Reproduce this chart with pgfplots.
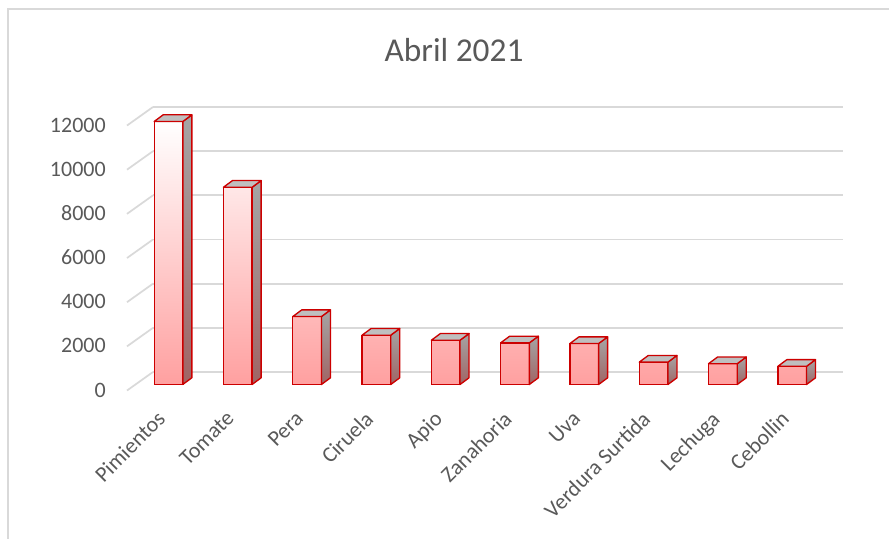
\documentclass[border=0pt]{standalone}
\usepackage{fontspec}
\setmainfont{Carlito}
\usepackage{pgfplots}
\pgfplotsset{compat=1.18}
\usepackage{pgfplotstable}
\definecolor{txt}{RGB}{89,89,89}
\definecolor{gridc}{RGB}{217,217,217}
\definecolor{barred}{RGB}{204,0,0}
\definecolor{pinkb}{RGB}{255,160,160}
\definecolor{pinkm}{RGB}{255,200,200}
\definecolor{sidetop}{RGB}{165,165,165}
\definecolor{sidebot}{RGB}{160,100,100}
\definecolor{topf}{RGB}{191,191,191}
\pgfplotstableread{
i v
0 12000
1 9000
2 3100
3 2250
4 2020
5 1900
6 1870
7 1020
8 950
9 830
}\datatable
\begin{document}
\begin{tikzpicture}
\path[use as bounding box] (0pt,0pt) rectangle (666.75pt,404.25pt);
\draw[gridc, line width=1.5pt] (6pt,0pt) -- (6pt,397.5pt) -- (666.75pt,397.5pt);
\node[text=txt, font=\fontsize{25}{30}\selectfont, anchor=base] at (340.5pt,358pt) {Abril 2021};
% back wall with gridlines
\begin{axis}[at={(114.75pt,125.25pt)}, anchor=south west, scale only axis,
  width=517.5pt, height=198.75pt,
  xmin=0, xmax=1, ymin=0, ymax=12000,
  axis line style={draw=none}, xtick=\empty,
  ytick={0,2000,...,12000}, major tick length=0pt,
  ymajorgrids, grid style={gridc, line width=1.3pt},
  scaled y ticks=false,
  /pgf/number format/assume math mode=true,
  /pgf/number format/1000 sep={},
  yticklabel style={anchor=east, inner sep=0pt, xshift=-35.25pt, yshift=-13.5pt,
    text=txt, font=\fontsize{16.5}{19}\selectfont},
  clip=false]
\addplot[draw=none] coordinates {(0,0) (1,12000)};
\pgfplotsinvokeforeach{0,2000,...,12000}{
  \draw[gridc, line width=1.3pt] (axis cs:0,#1) -- ++(-19.5pt,-13.9pt);
}
\end{axis}
% bars
\begin{axis}[at={(100.39pt,115.875pt)}, anchor=south west, scale only axis,
  width=519.75pt, height=197.25pt,
  xmin=-0.5, xmax=9.5, ymin=0, ymax=12000,
  axis line style={draw=none}, ytick=\empty,
  xtick={0,...,9}, major tick length=0pt,
  xticklabels={Pimientos,Tomate,Pera,Ciruela,Apio,Zanahoria,Uva,Verdura Surtida,Lechuga,Cebollin},
  xticklabel style={rotate=45, anchor=north east, inner sep=0pt, xshift=-20pt, yshift=-6.5pt,
    text=txt, font=\fontsize{16.5}{19}\selectfont},
  clip=false]
\addplot[scatter, only marks, mark=*, mark size=0pt,
  visualization depends on={\thisrow{v}\as\val},
  scatter/@pre marker code/.code={%
    \pgfmathsetmacro\H{\val*0.0164375}%
    \pgfmathsetmacro\Hb{5-\H}%
    \pgfmathsetmacro\Hc{-\H}%
    \shadedraw[top color=sidetop, bottom color=sidebot, draw=barred, line width=1pt, line join=round]
      (10.75pt,0pt) -- (17.5pt,5pt) -- (17.5pt,\Hb pt) -- (10.75pt,\Hc pt) -- cycle;
    \filldraw[fill=topf, draw=barred, line width=1pt, line join=round]
      (-10.75pt,0pt) -- (10.75pt,0pt) -- (17.5pt,5pt) -- (-4pt,5pt) -- cycle;
  },
  scatter/@post marker code/.code={}]
  table[x=i, y=v] {\datatable};
\addplot[ybar, bar width=21.5pt, draw=barred, line width=1pt,
  top color=white, middle color=pinkm, bottom color=pinkb]
  table[x=i, y=v] {\datatable};
\end{axis}
\end{tikzpicture}
\end{document}
